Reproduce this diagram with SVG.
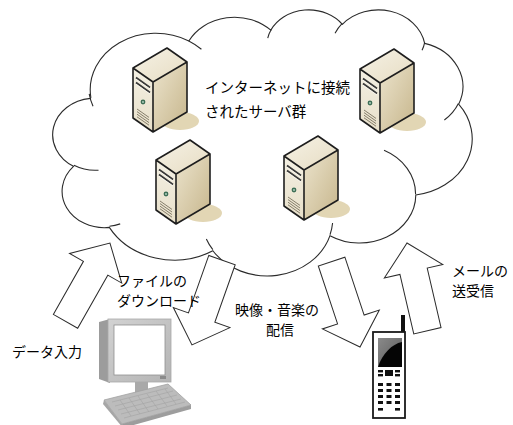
<svg xmlns="http://www.w3.org/2000/svg" xmlns:xlink="http://www.w3.org/1999/xlink" width="513" height="425" viewBox="0 0 513 425">
  <style>
    .lbl { font-family: "Noto Sans CJK JP", "Noto Sans", sans-serif; font-size: 14px; fill: #000; }
    .cloud { fill: #fff; stroke: #2b2b2b; stroke-width: 1.1; vector-effect: non-scaling-stroke; }
    .crease { fill: none; stroke: #2b2b2b; stroke-width: 1.1; vector-effect: non-scaling-stroke; }
    .arrow { fill: #fff; stroke: #2b2b2b; stroke-width: 1; stroke-linejoin: miter; }
    .edge { fill: none; stroke: #1e1e1e; stroke-width: 1.6; stroke-linejoin: round; }
  </style>
  <defs>
    <linearGradient id="gSide" x1="0" y1="0" x2="1" y2="1">
      <stop offset="0" stop-color="#ece4cd"/>
      <stop offset="1" stop-color="#c6b58b"/>
    </linearGradient>
    <linearGradient id="gTop" x1="0" y1="0" x2="1" y2="1">
      <stop offset="0" stop-color="#f6f2e6"/>
      <stop offset="1" stop-color="#e6dcc2"/>
    </linearGradient>
    <linearGradient id="gFront" x1="0" y1="0" x2="0" y2="1">
      <stop offset="0" stop-color="#f4f0e3"/>
      <stop offset="1" stop-color="#e7dfc9"/>
    </linearGradient>
    <linearGradient id="gBezel" x1="0" y1="0" x2="1" y2="1">
      <stop offset="0" stop-color="#d2d2d2"/>
      <stop offset="1" stop-color="#b4b4b4"/>
    </linearGradient>
    <linearGradient id="gScreen" x1="0" y1="0" x2="1" y2="1">
      <stop offset="0" stop-color="#8a8a8a"/>
      <stop offset="1" stop-color="#5a5a5a"/>
    </linearGradient>

    <!-- tower server icon, 54 x 84 box -->
    <g id="server">
      <ellipse cx="47" cy="73" rx="19" ry="9" fill="#e2d6b4"/>
      <polygon points="0,20 34,0 54,14 20,34" fill="url(#gTop)"/>
      <polygon points="0,20 20,34 20,84 0,70" fill="url(#gFront)"/>
      <polygon points="20,34 54,14 54,64 20,84" fill="url(#gSide)"/>
      <!-- drive bays -->
      <path d="M3,29.6 L17,39.4 M3,34.6 L17,44.4" stroke="#3a3a3a" stroke-width="1.8" fill="none"/>
      <path d="M3,31.2 L17,41 M3,36.2 L17,46" stroke="#fbf9f2" stroke-width="0.8" fill="none"/>
      <!-- power button -->
      <circle cx="10" cy="54" r="2.4" fill="#3d6e56"/>
      <circle cx="10" cy="54" r="0.9" fill="#b9d8c6"/>
      <!-- vents -->
      <path d="M4,61 L16,69.4 M4,63.6 L16,72 M4,66.2 L16,74.6 M4,68.8 L16,77.2" stroke="#6b6350" stroke-width="0.8" fill="none"/>
      <path class="edge" d="M0,20 L34,0 L54,14 L54,64 L20,84 L0,70 Z M0,20 L20,34 L54,14 M20,34 L20,84"/>
    </g>

    <!-- block arrow pointing along +x, tail centre at origin -->
    <polygon id="blockArrow" points="0,-14 61,-14 61,-30 90,0 61,30 61,14 0,14"/>
  </defs>

  <!-- cloud -->
  <g id="cloud" transform="translate(53,9) scale(0.0096991,0.0061574)">
    <path class="cloud" d="M3900,14370 A6753,9190 0 0 1 14005,5202 A5333,7267 0 0 1 22458,3433 A4365,5945 0 0 1 29835,2483 A4857,6595 0 0 1 38321,5578 A5333,7273 0 0 1 41821,15462 A6775,9220 0 0 1 37406,30203 A5785,7867 0 0 1 28557,36813 A6752,9215 0 0 1 16482,39266 A7720,10543 0 0 1 5807,35473 A4360,5918 0 0 1 2114,25553 A4345,5945 0 0 1 3864,14509 Z"/>
    <path class="crease" d="M4693,26177 A4345,5945 0 0 1 2160,25380 M6928,34899 A4360,5918 0 0 1 5820,35281 M16478,39090 A6752,9215 0 0 1 15810,37349 M28827,34751 A6752,9215 0 0 1 28560,36660 M34129,22954 A5785,7867 0 0 1 37381,30090 M41798,15354 A5333,7273 0 0 1 40350,18030 M38324,5426 A4857,6595 0 0 1 38051,6714 M29078,3952 A4857,6595 0 0 1 29820,2340 M22141,4720 A4365,5945 0 0 1 22500,3330 M14000,5192 A6753,9190 0 0 1 15302,6543 M4127,15789 A6753,9190 0 0 1 3732,13778"/>
  </g>

  <!-- servers -->
  <g id="server-1"><use xlink:href="#server" href="#server" transform="translate(133,48)"/></g>
  <g id="server-2"><use xlink:href="#server" href="#server" transform="translate(360,49)"/></g>
  <g id="server-3"><use xlink:href="#server" href="#server" transform="translate(156,140)"/></g>
  <g id="server-4"><use xlink:href="#server" href="#server" transform="translate(284,136)"/></g>

  <g id="cloud-label">
    <text class="lbl" x="205" y="93" style="font-size:14.5px">インターネットに接続</text>
    <text class="lbl" x="205" y="117" style="font-size:14.5px">されたサーバ群</text>
  </g>

  <!-- connectors: block arrows -->
  <g id="connectors">
    <use class="arrow" xlink:href="#blockArrow" href="#blockArrow" transform="translate(65.5,321.3) rotate(-60.4)"/>
    <use class="arrow" xlink:href="#blockArrow" href="#blockArrow" transform="translate(222,260.1) rotate(109.5)"/>
    <use class="arrow" xlink:href="#blockArrow" href="#blockArrow" transform="translate(331.6,261.6) rotate(71.6)"/>
    <use class="arrow" xlink:href="#blockArrow" href="#blockArrow" transform="translate(427.4,330.7) rotate(-103.1)"/>
  </g>

  <g id="arrow-labels">
    <text class="lbl" x="12" y="357">データ入力</text>
    <text class="lbl" x="117" y="286">ファイルの</text>
    <text class="lbl" x="117" y="306">ダウンロード</text>
    <text class="lbl" x="277" y="315" text-anchor="middle">映像・音楽の</text>
    <text class="lbl" x="280" y="335" text-anchor="middle">配信</text>
    <text class="lbl" x="452" y="276">メールの</text>
    <text class="lbl" x="452" y="296">送受信</text>
  </g>

  <!-- desktop computer -->
  <g id="computer">
    <polygon points="99,322 110,319 110,383 99,379" fill="#9c9c9c"/>
    <rect x="108" y="319" width="63" height="63" fill="url(#gBezel)" stroke="#a8a8a8" stroke-width="0.8"/>
    <rect x="114" y="325" width="51" height="50" fill="#fff" stroke="#8f8f8f" stroke-width="0.8"/>
    <rect x="160" y="376" width="6" height="3" fill="#8a8a8a"/>
    <rect x="135" y="382" width="13" height="11" fill="#a9a9a9"/>
    <polygon points="104,400 168,384 191,405 122,424" fill="#bcbcbc" stroke="#a2a2a2" stroke-width="0.8"/>
    <polygon points="122,424 191,405 191,409 123,428" fill="#9d9d9d"/>
    <polygon points="104,400 122,424 123,428 103,404" fill="#a6a6a6"/>
    <g stroke="#a3a3a3" stroke-width="0.6" fill="none">
      <path d="M112,402 L168,388 M115,406 L173,391 M118,410 L177,395 M121,414 L181,399 M124,418 L185,402"/>
      <path d="M120,400 L131,416 M129,398 L140,414 M138,396 L149,412 M147,394 L158,409 M156,391 L167,406 M165,389 L176,404"/>
    </g>
  </g>

  <!-- mobile phone -->
  <g id="phone">
    <rect x="401" y="315" width="4" height="18" fill="#111"/>
    <rect x="373" y="332" width="32" height="86" fill="#fff" stroke="#1a1a1a" stroke-width="1.8"/>
    <rect x="378" y="338" width="24" height="29" fill="url(#gScreen)"/>
    <path d="M378,367 C382,354 392,344 402,342 L402,367 Z" fill="#050505"/>
    <g fill="#111">
      <rect x="378" y="370" width="5" height="2.4"/>
      <rect x="378" y="374" width="5" height="2.4"/>
      <rect x="385" y="370" width="8" height="6"/>
      <rect x="395" y="370" width="5" height="2.4"/>
      <rect x="395" y="374" width="5" height="2.4"/>
      <rect x="378" y="383" width="5" height="3"/>
      <rect x="386.5" y="383" width="5" height="3"/>
      <rect x="395" y="383" width="5" height="3"/>
      <rect x="378" y="389" width="5" height="3"/>
      <rect x="386.5" y="389" width="5" height="3"/>
      <rect x="395" y="389" width="5" height="3"/>
      <rect x="378" y="395" width="5" height="3"/>
      <rect x="386.5" y="395" width="5" height="3"/>
      <rect x="395" y="395" width="5" height="3"/>
      <rect x="378" y="401" width="5" height="3"/>
      <rect x="386.5" y="401" width="5" height="3"/>
      <rect x="395" y="401" width="5" height="3"/>
      <rect x="378" y="408" width="5" height="2.6"/>
      <rect x="395" y="408" width="5" height="2.6"/>
    </g>
  </g>
</svg>
